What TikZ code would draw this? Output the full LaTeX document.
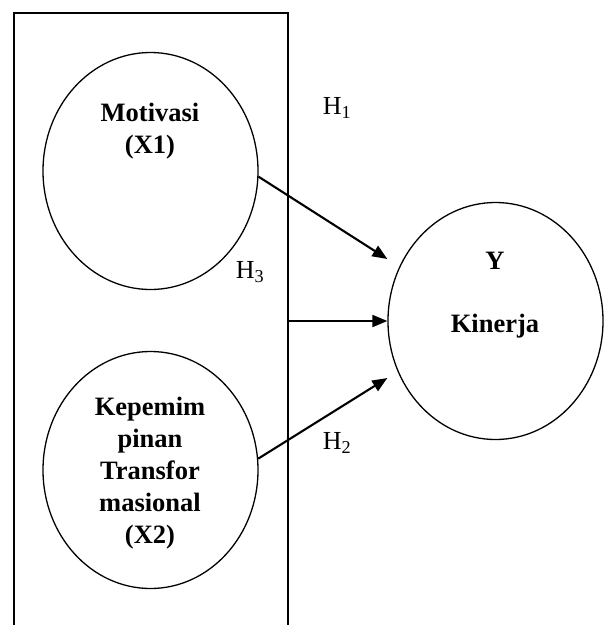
\documentclass[tikz,border=0pt]{standalone}
\usepackage{fontspec}
\setmainfont{Liberation Serif}
\usetikzlibrary{shapes,arrows.meta}
\usetikzlibrary{calc, positioning, shapes.geometric}

\begin{document}
\begin{tikzpicture}[x=1pt,y=-1pt,
    var/.style={draw, ellipse, line width=1.3pt, minimum width=215pt, minimum height=237pt, inner sep=0pt},
    varlabel/.style={font=\bfseries\fontsize{26.5}{32}\selectfont, align=center},
    hyp/.style={font=\fontsize{26}{30}\selectfont},
    link/.style={line width=2.1pt, -{Triangle[length=15pt,width=12pt]}}]
    \path[use as bounding box, clip] (0,0) rectangle (607,625);

    % box round the two independent variables (bottom edge runs off the page)
    \node[draw, line width=1.5pt, minimum width=274pt, minimum height=630pt, inner sep=0pt] (box) at (151,328) {};

    \begin{scope}
      \node[var] (x1) at (150.5,171) {};
      \node[varlabel] (x1_label) at (150,131) {Motivasi\\(X1)};
    \end{scope}

    \begin{scope}
      \node[var] (x2) at (150.5,470) {};
      \node[varlabel] (x2_label) at (150,473) {Kepemim\\pinan\\Transfor\\masional\\(X2)};
    \end{scope}

    \begin{scope}
      \node[var] (y) at (495.5,321) {};
      \node[varlabel] (y_label) at (495,295) {Y\\[31pt]Kinerja};
    \end{scope}

    % hypotheses
    \coordinate (h1_end) at ($(y.west)+(0,-62)$);
    \coordinate (h2_end) at ($(y.west)+(0,57)$);
    \draw[link] (x1.-3) -- (h1_end);
    \draw[link] (x2.6) -- (h2_end);
    \draw[link] (box.east |- y.west) -- (y.west);

    \node[hyp] (h1) at (337,108) {H\textsubscript{1}};
    \node[hyp] (h2) at (337,443) {H\textsubscript{2}};
    \node[hyp] (h3) at (250,272) {H\textsubscript{3}};

\end{tikzpicture}
\end{document}
